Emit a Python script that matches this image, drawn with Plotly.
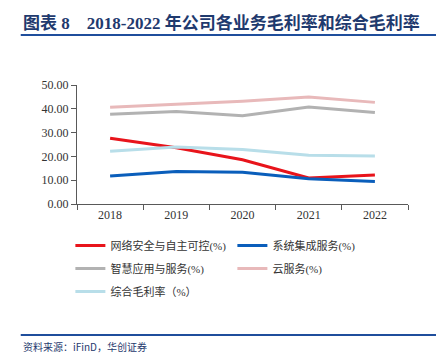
import plotly.graph_objects as go

years = ["2018", "2019", "2020", "2021", "2022"]
net_security = [27.6, 23.6, 18.6, 10.9, 12.2]
system_integration = [11.8, 13.7, 13.3, 10.6, 9.5]
smart_apps = [37.7, 38.9, 37.1, 40.8, 38.4]
cloud = [40.7, 41.8, 43.2, 45.0, 42.7]
overall = [22.2, 24.0, 22.9, 20.5, 20.2]

names = ["网络安全与自主可控(%)", "系统集成服务(%)", "智慧应用与服务(%)", "云服务(%)", "综合毛利率（%）"]
colors = ["#E8141B", "#0A5EBB", "#B2B2B2", "#E8B9BA", "#B8DEE9"]
legend_ids = ["legend", "legend", "legend2", "legend2", "legend3"]
series = [net_security, system_integration, smart_apps, cloud, overall]

fig = go.Figure()
for name, vals, c, lg in zip(names, series, colors, legend_ids):
    fig.add_trace(go.Scatter(x=years, y=vals, name=name, mode="lines",
                             line=dict(color=c, width=3), legend=lg))

leg_font = dict(family="Liberation Serif, Noto Sans CJK SC", size=11, color="#333333")
def leg(y):
    return dict(orientation="h", x=-0.02, xanchor="left", y=y, yanchor="top",
                entrywidth=117, entrywidthmode="pixels", font=leg_font, itemwidth=30,
                bgcolor="rgba(0,0,0,0)")

fig.update_layout(
    width=436, height=353,
    margin=dict(l=77, r=28, t=85, b=149),
    paper_bgcolor="white", plot_bgcolor="white",
    font=dict(family="Liberation Serif, Noto Sans CJK SC", size=11, color="#333333"),
    showlegend=True,
    legend=leg(-0.227), legend2=leg(-0.42), legend3=leg(-0.613),
    xaxis=dict(range=[-0.5, 4.5], showline=True, linecolor="#595959", linewidth=1, ticks="outside",
               tickson="boundaries", ticklen=5, tickcolor="#595959", showgrid=False,
               tickfont=dict(family="Liberation Serif", size=12, color="#333333")),
    yaxis=dict(range=[0, 50], dtick=10, tickformat=".2f", showline=True, linecolor="#595959",
               linewidth=1, ticks="outside", ticklen=5, tickcolor="#595959", showgrid=False,
               zeroline=False,
               tickfont=dict(family="Liberation Serif", size=12, color="#333333")),
)

fig.add_annotation(xref="paper", yref="paper", x=-0.168, y=1.0, xanchor="left", yanchor="bottom",
                   yshift=50, text="<b>图表 8    2018-2022 年公司各业务毛利率和综合毛利率</b>",
                   showarrow=False,
                   font=dict(family="Liberation Serif, Noto Sans CJK SC", size=17, color="#1F3A6E"))
fig.add_shape(type="line", xref="paper", yref="paper", x0=-0.17, x1=1.09, y0=1.42, y1=1.42,
              line=dict(color="#1F4E9C", width=2))
fig.add_shape(type="line", xref="paper", yref="paper", x0=-0.17, x1=1.09, y0=-1.10, y1=-1.10,
              line=dict(color="#1F4E9C", width=2))
fig.add_annotation(xref="paper", yref="paper", x=-0.168, y=-1.118, xanchor="left", yanchor="top",
                   text="资料来源：iFinD，华创证券", showarrow=False,
                   font=dict(family="Noto Sans CJK SC", size=10, color="#1F3A6E"))

fig.write_html("out.html")
